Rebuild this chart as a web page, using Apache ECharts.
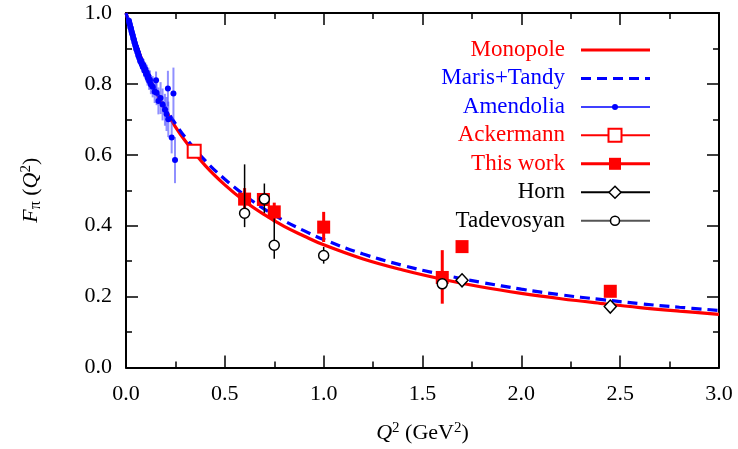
<!DOCTYPE html>
<html>
<head>
<meta charset="utf-8">
<script src="https://cdn.jsdelivr.net/npm/echarts@6/dist/echarts.min.js"></script>
<style>html,body{margin:0;padding:0;background:#fff}#c{width:738px;height:449px}</style>
</head>
<body>
<div id="c"></div>
<script>
// ---- data ----
var curveQ = [0,0.05,0.1,0.15,0.2,0.25,0.3,0.4,0.5,0.6,0.7,0.8,0.9,1.0,1.2,1.4,1.6,1.8,2.0,2.2,2.4,2.6,2.8,3.0];
var monopoleF = [1,0.914,0.841,0.779,0.726,0.679,0.639,0.570,0.515,0.469,0.431,0.398,0.371,0.346,0.306,0.275,0.249,0.227,0.209,0.194,0.181,0.169,0.159,0.150];
var marisTandyF = [1,0.915,0.843,0.783,0.732,0.688,0.649,0.584,0.531,0.486,0.447,0.414,0.386,0.361,0.320,0.288,0.262,0.240,0.221,0.205,0.192,0.180,0.170,0.161];

var amendQ = [0.015,0.017,0.020,0.022,0.025,0.027,0.030,0.032,0.035,0.037,0.040,0.042,0.045,0.047,0.050,0.052,0.055,0.057,0.060,0.062,0.065,0.067,0.070,0.072,0.075,0.078,0.081,0.085,0.089,0.093,0.097,0.101,0.105,0.109,0.113,0.117,0.121,0.126,0.135,0.145,0.152,0.155,0.164,0.175,0.185,0.197,0.205,0.212,0.214,0.231,0.240,0.248];
var amendF = [0.978,0.972,0.967,0.960,0.957,0.950,0.945,0.940,0.935,0.928,0.925,0.918,0.915,0.908,0.905,0.898,0.897,0.890,0.888,0.880,0.880,0.873,0.872,0.864,0.866,0.858,0.855,0.848,0.852,0.838,0.842,0.828,0.832,0.818,0.822,0.808,0.812,0.798,0.792,0.778,0.810,0.775,0.752,0.760,0.742,0.727,0.715,0.787,0.700,0.649,0.773,0.585];
var amendErr = [0.010,0.010,0.010,0.010,0.010,0.010,0.010,0.010,0.011,0.011,0.011,0.011,0.012,0.012,0.012,0.012,0.013,0.013,0.013,0.014,0.014,0.014,0.015,0.015,0.016,0.016,0.017,0.018,0.018,0.019,0.020,0.021,0.022,0.023,0.024,0.025,0.026,0.027,0.030,0.032,0.025,0.035,0.038,0.045,0.045,0.045,0.048,0.050,0.050,0.045,0.073,0.065];

var ackQ = [0.345];
var ackF = [0.610];

var thisQ = [0.60,0.695,0.75,1.00,1.60,1.70,2.45];
var thisF = [0.475,0.474,0.439,0.396,0.254,0.341,0.215];
var thisLo = [0.445,0.474,0.410,0.354,0.180,0.341,0.215];
var thisHi = [0.506,0.474,0.465,0.439,0.331,0.341,0.215];

var hornQ = [1.70,2.45];
var hornF = [0.246,0.172];

var tadQ = [0.60,0.70,0.75,1.00,1.60];
var tadF = [0.435,0.475,0.345,0.316,0.236];
var tadLo = [0.396,0.436,0.307,0.293,0.222];
var tadHi = [0.573,0.519,0.420,0.340,0.250];

var xTicks = [0,0.5,1.0,1.5,2.0,2.5,3.0];
var yTicks = [0,0.2,0.4,0.6,0.8,1.0];

// ---- helpers ----
function zip(a,b){return a.map(function(v,i){return [v,b[i]];});}
function errSeries(xs, lo, hi, color, width, z){
  return {
    type:'custom', z:z, silent:true,
    data: xs.map(function(x,i){return [x, lo[i], hi[i]];}),
    renderItem:function(params, api){
      var p1 = api.coord([api.value(0), api.value(1)]);
      var p2 = api.coord([api.value(0), api.value(2)]);
      return {type:'line', shape:{x1:p1[0],y1:p1[1],x2:p2[0],y2:p2[1]}, style:{stroke:color, lineWidth:width}};
    }
  };
}
var FONT = 'Liberation Serif';
var amLo = amendF.map(function(v,i){return v-amendErr[i];});
var amHi = amendF.map(function(v,i){return v+amendErr[i];});

function axisCommon(){
  return {
    axisLine:{show:true, onZero:false, lineStyle:{color:'#000', width:2}},
    axisTick:{show:true, inside:true, length:12, lineStyle:{color:'#000', width:1.5}},
    minorTick:{show:true, splitNumber:2, length:6, lineStyle:{color:'#000', width:1.5}},
    splitLine:{show:false}
  };
}
function mk(base, extra){for(var k in extra){base[k]=extra[k];} return base;}

var rich = {
  n:{fontFamily:FONT, fontSize:22, color:'#000'},
  i:{fontFamily:FONT, fontSize:22, fontStyle:'italic', color:'#000'},
  sup:{fontFamily:FONT, fontSize:15, color:'#000', verticalAlign:'top', padding:[0,0,10,0]},
  sub:{fontFamily:FONT, fontSize:16, color:'#000', verticalAlign:'bottom', padding:[8,0,0,0]}
};

// ---- legend rows (graphic) ----
var legRows = [
  {t:'Monopole', c:'#ff0000'},
  {t:'Maris+Tandy', c:'#0000ff'},
  {t:'Amendolia', c:'#0000ff'},
  {t:'Ackermann', c:'#ff0000'},
  {t:'This work', c:'#ff0000'},
  {t:'Horn', c:'#000000'},
  {t:'Tadevosyan', c:'#000000'}
];
var g = [];
var y0 = 50, dy = 28.45, tx = 565, lx1 = 581, lx2 = 650, mx = 615;
legRows.forEach(function(r, k){
  var y = y0 + k*dy;
  g.push({type:'text', x:tx, y:y, style:{text:r.t, fill:r.c, font:'23px "Liberation Serif"', textAlign:'right', textVerticalAlign:'middle'}});
});
function L(k, color, w, dash){
  var y = y0 + k*dy;
  return {type:'line', shape:{x1:lx1,y1:y,x2:lx2,y2:y}, style:{stroke:color, lineWidth:w, lineDash:dash||null}};
}
g.push(L(0,'#ff0000',3));
g.push(L(1,'#0000ff',3,[10,6]));
g.push(L(2,'#0000ff',1.5));
g.push({type:'circle', shape:{cx:mx, cy:y0+2*dy, r:3}, style:{fill:'#0000ff'}});
g.push(L(3,'#ff0000',2));
g.push({type:'rect', shape:{x:mx-6.5, y:y0+3*dy-6.5, width:13, height:13}, style:{fill:'#fff', stroke:'#ff0000', lineWidth:2}});
g.push(L(4,'#ff0000',3));
g.push({type:'rect', shape:{x:mx-6, y:y0+4*dy-6, width:12, height:12}, style:{fill:'#ff0000'}});
g.push(L(5,'#000000',2));
g.push({type:'polygon', shape:{points:[[mx,y0+5*dy-6],[mx+6,y0+5*dy],[mx,y0+5*dy+6],[mx-6,y0+5*dy]]}, style:{fill:'#fff', stroke:'#000', lineWidth:1.5}});
g.push(L(6,'#555555',2));
g.push({type:'circle', shape:{cx:mx, cy:y0+6*dy, r:4.5}, style:{fill:'#fff', stroke:'#000', lineWidth:1.5}});

var chart = echarts.init(document.getElementById('c'), null, {renderer:'canvas'});
chart.setOption({
  animation:false,
  backgroundColor:'#fff',
  grid:{left:126, right:19, top:13, bottom:74, containLabel:false},
  xAxis:[
    mk(axisCommon(), {type:'value', min:0, max:3, interval:0.5, position:'bottom',
      axisLabel:{show:true, margin:16, fontFamily:FONT, fontSize:22, color:'#000', formatter:function(v){return v.toFixed(1);}},
      name:'{i|Q}{sup|2}{n| (GeV}{sup|2}{n|)}', nameLocation:'middle', nameGap:53,
      nameTextStyle:{rich:rich}}),
    mk(axisCommon(), {type:'value', min:0, max:3, interval:0.5, position:'top', axisLabel:{show:false}})
  ],
  yAxis:[
    mk(axisCommon(), {type:'value', min:0, max:1, interval:0.2, position:'left',
      axisLabel:{show:true, margin:14, fontFamily:FONT, fontSize:22, color:'#000', formatter:function(v){return v.toFixed(1);}},
      name:'{i|F}{sub|π}{n| (}{i|Q}{sup|2}{n|)}', nameLocation:'middle', nameGap:82, nameRotate:90,
      nameTextStyle:{rich:rich}}),
    mk(axisCommon(), {type:'value', min:0, max:1, interval:0.2, position:'right', axisLabel:{show:false}})
  ],
  graphic:g,
  series:[
    {type:'line', name:'Monopole', data:zip(curveQ, monopoleF), smooth:0.4, showSymbol:false, symbol:'none',
      lineStyle:{color:'#ff0000', width:3.2}, z:2},
    {type:'line', name:'Maris+Tandy', data:zip(curveQ, marisTandyF), smooth:0.4, showSymbol:false, symbol:'none',
      lineStyle:{color:'#0000ff', width:3.2, type:[10,6]}, z:3},
    errSeries(amendQ, amLo, amHi, 'rgba(70,70,255,0.6)', 2, 4),
    {type:'scatter', name:'Amendolia', data:zip(amendQ, amendF), symbol:'circle', symbolSize:6,
      itemStyle:{color:'#0000ff', opacity:1}, z:5},
    {type:'scatter', name:'Ackermann', data:zip(ackQ, ackF), symbol:'rect', symbolSize:13,
      itemStyle:{color:'#fff', borderColor:'#ff0000', borderWidth:2, opacity:1}, z:6},
    errSeries(thisQ, thisLo, thisHi, '#ff0000', 3, 6),
    {type:'scatter', name:'This work', data:zip(thisQ, thisF), symbol:'rect', symbolSize:13,
      itemStyle:{color:'#ff0000', opacity:1}, z:7},
    errSeries(tadQ, tadLo, tadHi, '#000000', 1.5, 8),
    {type:'scatter', name:'Horn', data:zip(hornQ, hornF), symbol:'diamond', symbolSize:[12,13],
      itemStyle:{color:'#fff', borderColor:'#000', borderWidth:1.5, opacity:1}, z:9},
    {type:'scatter', name:'Tadevosyan', data:zip(tadQ, tadF), symbol:'circle', symbolSize:10,
      itemStyle:{color:'#fff', borderColor:'#000', borderWidth:1.5, opacity:1}, z:9}
  ]
});
</script>
</body>
</html>
